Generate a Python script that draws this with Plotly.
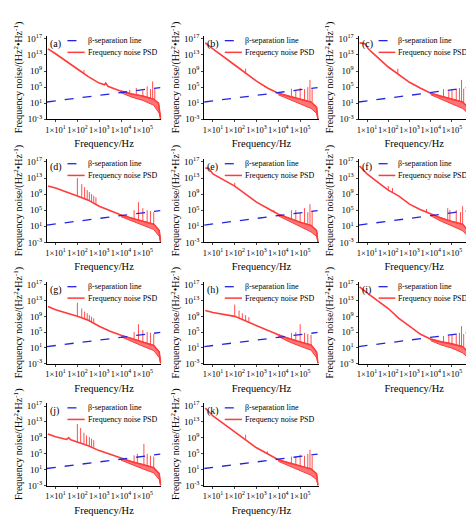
import plotly.graph_objects as go

# data: (log10 f, log10 S)
labels = ["a","b","c","d","e","f","g","h","i","j","k"]
base = {
 "a": [(0.65,14.5),(1,13.3),(2,9.5),(2.5,7.6),(3,6.0),(3.25,5.6),(3.3,6.0),(3.4,5.2),(4,4.0),(4.5,3.3),(5,2.8),(5.5,2.0),(5.72,1.0),(5.82,-3)],
 "b": [(0.65,16),(1,14.5),(2,10.5),(2.5,8.5),(3,6.5),(3.5,4.8),(4,3.5),(4.5,2.7),(5,2.0),(5.5,1.3),(5.75,0),(5.82,-3)],
 "c": [(0.65,16),(0.9,15.8),(1.05,14.6),(1.2,13.8),(2,10),(2.5,8),(3,6.2),(3.5,4.8),(4,3.5),(4.5,2.7),(5,2.0),(5.5,1.3),(5.75,0),(5.82,-3)],
 "d": [(0.65,11),(1,10.5),(2,8.5),(2.5,7.5),(3,6.0),(3.5,4.8),(4,3.8),(4.5,3.0),(5,2.3),(5.5,1.5),(5.75,0),(5.82,-3)],
 "e": [(0.65,15.5),(0.8,15.4),(1,14),(1.5,12.5),(2,11),(2.5,9),(3,7),(3.5,5.5),(4,4.0),(4.5,3.0),(5,2.0),(5.5,1.2),(5.75,0),(5.82,-3)],
 "f": [(0.65,16),(1,14),(1.5,12),(2,10),(2.5,8.5),(3,6.5),(3.5,5.2),(4,4.0),(4.5,3.0),(5,2.2),(5.5,1.5),(5.75,0),(5.82,-3)],
 "g": [(0.65,11.5),(1,10.7),(2,9),(2.5,8),(3,6.5),(3.5,5.2),(4,4.2),(4.5,3.3),(5,2.5),(5.5,1.6),(5.75,0),(5.82,-3)],
 "h": [(0.65,10.5),(1,10),(2,9),(2.5,7.8),(3,6.5),(3.5,5.3),(4,4.3),(4.5,3.3),(5,2.5),(5.5,1.7),(5.75,0),(5.82,-3)],
 "i": [(0.65,16.5),(1,15),(2,11),(2.5,8.5),(3,6.5),(3.5,4.5),(4,3.2),(4.5,2.5),(5,2.0),(5.5,1.3),(5.75,0),(5.82,-3)],
 "j": [(0.65,10),(1,9.3),(1.5,8.6),(1.6,9.0),(1.7,8.5),(2,8),(2.5,7),(3,5.8),(3.5,4.8),(4,3.8),(4.5,3.0),(5,2.3),(5.5,1.5),(5.75,0),(5.82,-3)],
 "k": [(0.65,16.5),(1,14.5),(1.5,12.5),(2,10.5),(2.5,8.5),(3,6.5),(3.5,5.0),(4,3.5),(4.5,2.7),(5,2.0),(5.5,1.2),(5.75,0),(5.82,-3)],
}
# lower edge of the noisy high-frequency band
lower = {
 "a": [(4,3.6),(4.5,2.5),(5,1.7),(5.5,0.5),(5.75,-1.5),(5.82,-3)],
 "b": [(4,3.1),(4.5,1.9),(5,0.9),(5.5,-0.3),(5.75,-1.5),(5.82,-3)],
 "c": [(4,3.1),(4.5,1.9),(5,0.9),(5.5,-0.3),(5.75,-1.5),(5.82,-3)],
 "d": [(4,3.4),(4.5,2.3),(5,1.3),(5.5,0.2),(5.75,-1.5),(5.82,-3)],
 "e": [(4,3.6),(4.5,2.2),(5,0.9),(5.5,-0.4),(5.75,-1.5),(5.82,-3)],
 "f": [(4,3.6),(4.5,2.2),(5,1.1),(5.5,-0.1),(5.75,-1.5),(5.82,-3)],
 "g": [(4,3.8),(4.5,2.5),(5,1.4),(5.5,0.3),(5.75,-1.5),(5.82,-3)],
 "h": [(4,3.9),(4.5,2.5),(5,1.4),(5.5,0.4),(5.75,-1.5),(5.82,-3)],
 "i": [(4,2.8),(4.5,1.7),(5,0.9),(5.5,-0.3),(5.75,-1.5),(5.82,-3)],
 "j": [(4,3.4),(4.5,2.2),(5,1.2),(5.5,0.2),(5.75,-1.5),(5.82,-3)],
 "k": [(4,3.1),(4.5,1.9),(5,0.9),(5.5,-0.4),(5.75,-1.5),(5.82,-3)],
}
# spikes: (log10 f, base, peak)
spikes = {
 "a": [(2.3,8.4,9.2),(4.4,3.2,4.3),(4.7,3.0,4.8),(5.0,2.7,4.2),(5.2,2.5,5.2),(5.35,2.3,4.5),(5.45,2.2,6.4),(5.55,2.0,4.8)],
 "b": [(2.5,8.5,9.6),(4.6,2.6,4.6),(4.8,2.4,4.2),(5.0,2.0,4.8),(5.2,1.8,4.5),(5.35,1.6,5.0),(5.45,1.4,6.8),(5.55,1.2,4.6)],
 "c": [(2.45,8.2,9.6),(4.6,2.6,4.5),(4.85,2.3,4.0),(5.0,2.0,4.5),(5.2,1.8,4.5),(5.35,1.6,4.8),(5.45,1.4,6.8),(5.55,1.2,4.6)],
 "d": [(2.0,8.5,13),(2.2,8.1,11.5),(2.33,7.9,10.7),(2.45,7.6,10),(2.55,7.3,9.5),(2.65,7.0,9.0),(2.75,6.8,8.6),(2.85,6.5,8.2),(4.6,2.9,5.0),(4.8,2.7,7.0),(5.0,2.3,5.5),(5.2,2.0,5.0),(5.35,1.8,4.8),(5.5,1.5,4.5)],
 "e": [(2.0,11,11.8),(3.8,4.5,5.0),(4.6,2.8,5.0),(4.8,2.5,5.0),(5.0,2.0,4.3),(5.2,1.7,5.5),(5.35,1.5,4.5),(5.45,1.3,6.5),(5.55,1.1,4.8)],
 "f": [(2.0,10,11),(2.2,9.4,10.5),(3.8,4.5,5.3),(4.8,2.6,5.5),(4.9,2.4,5.0),(5.2,2.0,5.0),(5.4,1.7,4.5),(5.5,1.5,6.0)],
 "g": [(2.0,9,12.5),(2.2,8.6,11),(2.33,8.3,10.2),(2.45,8.0,9.8),(2.55,7.7,9.3),(2.65,7.4,8.9),(2.75,7.2,8.5),(4.6,3.2,5.0),(4.8,2.9,7.0),(5.0,2.5,5.5),(5.2,2.2,5.0),(5.35,1.9,4.8),(5.5,1.6,4.5)],
 "h": [(2.0,9,12),(2.2,8.6,10.5),(2.35,8.3,9.8),(2.5,7.8,9.3),(2.65,7.4,8.8),(4.6,3.2,4.8),(4.8,2.9,5.0),(5.0,2.5,7.0),(5.2,2.2,4.8),(5.35,1.9,4.5),(5.5,1.7,4.3)],
 "i": [(4.6,2.4,4.0),(4.85,2.2,4.2),(5.0,2.0,4.5),(5.2,1.8,4.3),(5.35,1.6,4.8),(5.45,1.4,6.5),(5.55,1.2,4.5)],
 "j": [(2.0,8,12.5),(2.15,7.7,11.5),(2.3,7.5,10.3),(2.42,7.3,9.6),(2.55,7.0,9.2),(2.65,6.8,8.8),(2.75,6.6,8.4),(4.6,2.9,4.6),(4.75,2.7,5.0),(5.05,2.2,7.5),(5.2,2.0,5.0),(5.35,1.8,4.5),(5.5,1.5,4.3)],
 "k": [(2.5,8.5,9.8),(3.5,5.0,5.6),(4.6,2.6,4.3),(4.8,2.4,4.2),(5.0,2.0,4.8),(5.2,1.8,4.5),(5.35,1.5,5.0),(5.45,1.3,6.0),(5.55,1.1,4.5)],
}
beta_logf = [0.6, 5.8]
beta_logS = [1.3, 4.9]

xtick_vals = [10, 100, 1000, 10000, 100000]
xtick_text = ["1×10<sup>1</sup>","1×10<sup>2</sup>","1×10<sup>3</sup>","1×10<sup>4</sup>","1×10<sup>5</sup>"]
ytick_exp = [-3, 1, 5, 9, 13, 17]

cols_px = [(37,152),(195,310),(350,462)]
rows_px = [(25,110),(150,235),(275,358),(398,482)]
W, H = 474, 521
RED = "#ff3b3b"; BLUE = "#2424e0"
FONT = "Liberation Serif"

fig = go.Figure()
lay = {}
for i, lab in enumerate(labels):
    r, c = divmod(i, 3)
    n = i + 1
    xa = "x" if n == 1 else f"x{n}"
    ya = "y" if n == 1 else f"y{n}"
    xd = [cols_px[c][0]/W, cols_px[c][1]/W]
    yd = [1-rows_px[r][1]/H, 1-rows_px[r][0]/H]
    pts = base[lab]
    lo = lower[lab]
    hb = [p for p in pts if p[0] >= 4]
    fig.add_trace(go.Scatter(x=[10**p[0] for p in hb], y=[10**p[1] for p in hb], xaxis=xa, yaxis=ya,
                             mode="lines", line=dict(color=RED, width=1), showlegend=False))
    fig.add_trace(go.Scatter(x=[10**p[0] for p in lo], y=[10**p[1] for p in lo], xaxis=xa, yaxis=ya,
                             mode="lines", line=dict(color=RED, width=1), fill="tonexty",
                             fillcolor="rgba(255,70,70,0.75)", showlegend=False))
    fig.add_trace(go.Scatter(x=[10**p[0] for p in pts], y=[10**p[1] for p in pts], xaxis=xa, yaxis=ya,
                             mode="lines", line=dict(color=RED, width=1.6), showlegend=False))
    sx, sy = [], []
    for f, b0, pk in spikes[lab]:
        sx += [10**f, 10**f, None]; sy += [10**b0, 10**pk, None]
    fig.add_trace(go.Scatter(x=sx, y=sy, xaxis=xa, yaxis=ya, mode="lines",
                             line=dict(color=RED, width=0.9), showlegend=False))
    fig.add_trace(go.Scatter(x=[10**v for v in beta_logf], y=[10**v for v in beta_logS], xaxis=xa, yaxis=ya,
                             mode="lines", line=dict(color=BLUE, width=1.3, dash="dash"), showlegend=False))
    lay["xaxis" if n == 1 else f"xaxis{n}"] = dict(
        domain=xd, anchor=ya, type="log", range=[0.6, 5.85], tickvals=xtick_vals, ticktext=xtick_text,
        tickangle=0, showgrid=False, zeroline=False, showline=True, linecolor="black", linewidth=1,
        ticks="outside", ticklen=2, tickfont=dict(size=8.5, family=FONT, color="black"),
        title=dict(text="Frequency/Hz", font=dict(size=10.5, family=FONT, color="black"), standoff=6))
    lay["yaxis" if n == 1 else f"yaxis{n}"] = dict(
        domain=yd, anchor=xa, type="log", range=[-3, 17.8],
        tickvals=[10**e for e in ytick_exp], ticktext=[f"10<sup>{e}</sup>" for e in ytick_exp],
        showgrid=False, zeroline=False, showline=True, linecolor="black", linewidth=1,
        ticks="outside", ticklen=2, tickfont=dict(size=9, family=FONT, color="black"),
        title=dict(text="Frequency noise/(Hz<sup>2</sup>•Hz<sup>-1</sup>)",
                   font=dict(size=10, family=FONT, color="black"), standoff=2))
    xr = f"{xa} domain"; yr = f"{ya} domain"
    fig.add_annotation(xref=xr, yref=yr, x=0.01, y=1.0, text=f"({lab})", showarrow=False,
                       xanchor="left", yanchor="top", font=dict(size=10, family=FONT, color="black"))
    fig.add_shape(type="line", xref=xr, yref=yr, x0=0.18, x1=0.33, y0=0.94, y1=0.94,
                  line=dict(color=BLUE, width=1.3, dash="dash"))
    fig.add_shape(type="line", xref=xr, yref=yr, x0=0.18, x1=0.33, y0=0.8, y1=0.8,
                  line=dict(color=RED, width=1.5))
    fig.add_annotation(xref=xr, yref=yr, x=0.34, y=0.94, text="β-separation line", showarrow=False,
                       xanchor="left", yanchor="middle", font=dict(size=8, family=FONT, color="black"))
    fig.add_annotation(xref=xr, yref=yr, x=0.34, y=0.8, text="Frequency noise PSD", showarrow=False,
                       xanchor="left", yanchor="middle", font=dict(size=8, family=FONT, color="black"))

fig.update_layout(width=W, height=H, margin=dict(l=0, r=0, t=0, b=0),
                  plot_bgcolor="white", paper_bgcolor="white", **lay)
fig.write_html("out.html")
